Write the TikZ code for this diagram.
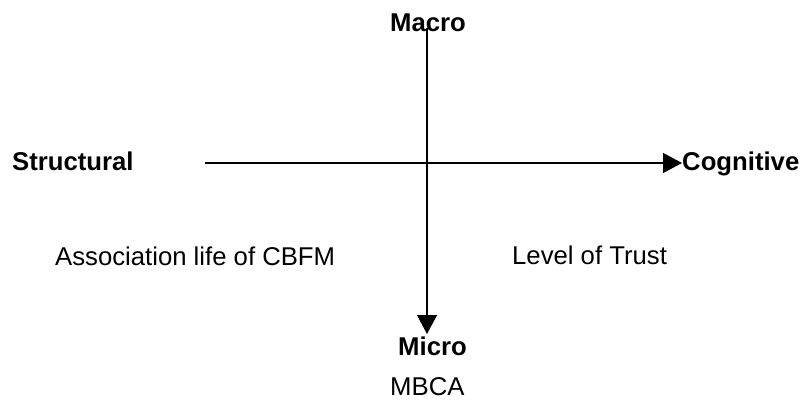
\documentclass[tikz,border=0pt]{standalone}
\usepackage{fontspec}
\setmainfont{Liberation Sans}
\usetikzlibrary{arrows.meta}
\tikzset{
	axislabel/.style={inner sep=0pt, anchor=base west, font=\fontsize{25.7}{30}\selectfont\bfseries},
	quadlabel/.style={inner sep=0pt, anchor=base west, font=\fontsize{25.7}{30}\selectfont},
	axis/.style={line width=1.3pt, -{Triangle[length=19pt, width=20pt]}}
}

\begin{document}
\begin{tikzpicture}[x=1pt, y=-1pt]
			%%%%% START %%%%%
			\useasboundingbox (0, 0) rectangle (803, 401);
			
			\coordinate (top) at (427, 28);
			\coordinate (bottom) at (427, 334);
			\coordinate (left) at (205, 163);
			\coordinate (right) at (682, 163);
			
			\draw[axis] (top) -- (bottom);
			\draw[axis] (left) -- (right);
			
			\node[axislabel] (macro) at (390, 32) {Macro};
			\node[axislabel] (micro) at (398, 355) {Micro};
			\node[axislabel] (structural) at (12, 170) {Structural};
			\node[axislabel] (cognitive) at (682, 170) {Cognitive};
			
			\node[quadlabel] (cbfm) at (55, 265) {Association life of CBFM};
			\node[quadlabel] (trust) at (512, 264) {Level of Trust};
			\node[quadlabel] (mbca) at (390, 395) {MBCA};
			
			%%%%% END %%%%%
		\end{tikzpicture}
\end{document}
